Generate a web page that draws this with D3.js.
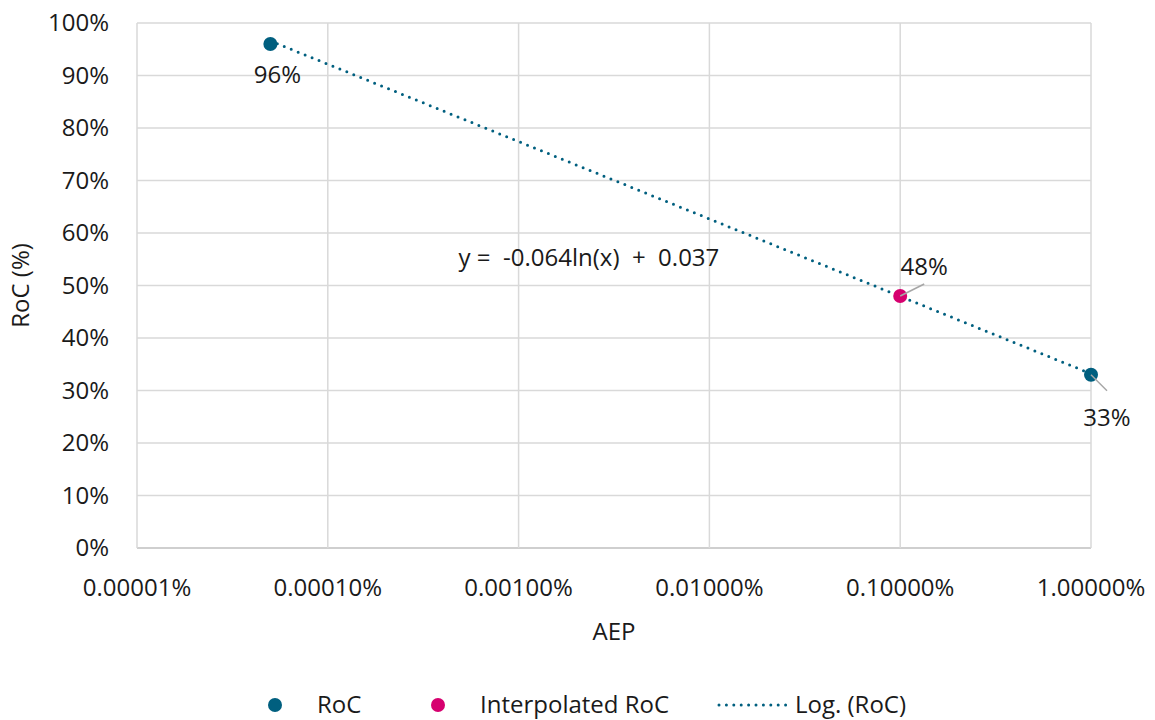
<!DOCTYPE html>
<html>
<head>
<meta charset="utf-8">
<script src="https://cdn.jsdelivr.net/npm/d3@7"></script>
<style>
  body { margin: 0; background: #fff; }
  text { font-family: "Open Sans", "Noto Sans", sans-serif; fill: #1a1a1a; }
</style>
</head>
<body>
<div id="chart"></div>
<script>
// data
var rocAEP = [5e-7, 1e-2];          // AEP as fraction
var rocVals = [0.96, 0.33];
var rocLabels = ["96%", "33%"];
var interpAEP = [1e-3];
var interpVals = [0.48];
var interpLabels = ["48%"];
var trendAEP = [5e-7, 1e-2];         // log trendline ends (straight on log axis)
var trendVals = [0.966, 0.332];
var xTicks = [1e-7, 1e-6, 1e-5, 1e-4, 1e-3, 1e-2];
var xTickLabels = ["0.00001%", "0.00010%", "0.00100%", "0.01000%", "0.10000%", "1.00000%"];
var yTicks = [0, 0.1, 0.2, 0.3, 0.4, 0.5, 0.6, 0.7, 0.8, 0.9, 1.0];
var equation = "y =  -0.064ln(x)  +  0.037";

var w = 1155, h = 720;
var margin = { top: 23, right: 64, bottom: 172, left: 137 };
var width = w - margin.left - margin.right;   // 954
var height = h - margin.top - margin.bottom;  // 525

var blue = "#005f7f", pink = "#d6006f", grid = "#d9d9d9";
var fs = "24px";

var svg = d3.select("#chart").append("svg")
    .attr("width", w).attr("height", h);
var g = svg.append("g")
    .attr("transform", "translate(" + margin.left + "," + margin.top + ")");

var x = d3.scaleLog().domain([1e-7, 1e-2]).range([0, width]);
var y = d3.scaleLinear().domain([0, 1]).range([height, 0]);

// gridlines
g.append("g").selectAll("line").data(yTicks).enter().append("line")
    .attr("x1", 0).attr("x2", width)
    .attr("y1", d => y(d)).attr("y2", d => y(d))
    .attr("stroke", d => d === 0 ? "#bfbfbf" : grid).attr("stroke-width", 1.5);
g.append("g").selectAll("line").data(xTicks).enter().append("line")
    .attr("x1", d => x(d)).attr("x2", d => x(d))
    .attr("y1", 0).attr("y2", height)
    .attr("stroke", grid).attr("stroke-width", 1.5);

// y tick labels
g.append("g").selectAll("text").data(yTicks).enter().append("text")
    .attr("x", -28).attr("y", d => y(d))
    .attr("dy", "0.35em")
    .attr("text-anchor", "end")
    .style("font-size", fs)
    .text(d => Math.round(d * 100) + "%");

// x tick labels
g.append("g").selectAll("text").data(xTicks).enter().append("text")
    .attr("x", d => x(d)).attr("y", height + 48)
    .attr("text-anchor", "middle")
    .style("font-size", fs)
    .text((d, i) => xTickLabels[i]);

// axis titles
svg.append("text")
    .attr("x", margin.left + width / 2).attr("y", 640)
    .attr("text-anchor", "middle")
    .style("font-size", fs)
    .text("AEP");
svg.append("text")
    .attr("transform", "translate(29," + (margin.top + height / 2) + ") rotate(-90)")
    .attr("text-anchor", "middle")
    .style("font-size", fs)
    .text("RoC (%)");

// trendline
var line = d3.line().x(d => x(d[0])).y(d => y(d[1]));
g.append("path")
    .datum(trendAEP.map((a, i) => [a, trendVals[i]]))
    .attr("d", line)
    .attr("fill", "none")
    .attr("stroke", blue)
    .attr("stroke-width", 3)
    .attr("stroke-linecap", "round")
    .attr("stroke-dasharray", "0,7.5");

// points
g.append("g").selectAll("circle").data(rocAEP).enter().append("circle")
    .attr("cx", d => x(d)).attr("cy", (d, i) => y(rocVals[i]))
    .attr("r", 7).attr("fill", blue);
g.append("g").selectAll("circle").data(interpAEP).enter().append("circle")
    .attr("cx", d => x(d)).attr("cy", (d, i) => y(interpVals[i]))
    .attr("r", 7).attr("fill", pink);

// leader lines for labels (48% and 33%)
g.append("line")
    .attr("x1", x(interpAEP[0])).attr("y1", y(interpVals[0]))
    .attr("x2", x(interpAEP[0]) + 24).attr("y2", y(interpVals[0]) - 12)
    .attr("stroke", "#a6a6a6").attr("stroke-width", 1.5);
g.append("line")
    .attr("x1", x(rocAEP[1])).attr("y1", y(rocVals[1]))
    .attr("x2", x(rocAEP[1]) + 16).attr("y2", y(rocVals[1]) + 16)
    .attr("stroke", "#a6a6a6").attr("stroke-width", 1.5);

// data labels
g.append("text")
    .attr("x", x(rocAEP[0]) + 7).attr("y", y(rocVals[0]) + 39)
    .attr("text-anchor", "middle").style("font-size", fs)
    .text(rocLabels[0]);
g.append("text")
    .attr("x", x(rocAEP[1]) + 16).attr("y", y(rocVals[1]) + 51)
    .attr("text-anchor", "middle").style("font-size", fs)
    .text(rocLabels[1]);
g.append("text")
    .attr("x", x(interpAEP[0]) + 24).attr("y", y(interpVals[0]) - 21)
    .attr("text-anchor", "middle").style("font-size", fs)
    .text(interpLabels[0]);

// equation
g.append("text")
    .attr("x", x(1e-5) - 60).attr("y", y(0.5) - 20)
    .style("font-size", fs)
    .style("white-space", "pre")
    .text(equation);

// legend
var leg = svg.append("g").attr("transform", "translate(0,705)");
leg.append("circle").attr("cx", 275).attr("cy", 0).attr("r", 7).attr("fill", blue);
leg.append("text").attr("x", 317).attr("y", 0).attr("dy", "0.35em").style("font-size", fs).text("RoC");
leg.append("circle").attr("cx", 438).attr("cy", 0).attr("r", 7).attr("fill", pink);
leg.append("text").attr("x", 480).attr("y", 0).attr("dy", "0.35em").style("font-size", fs).text("Interpolated RoC");
leg.append("line").attr("x1", 719).attr("x2", 786).attr("y1", 0).attr("y2", 0)
    .attr("stroke", blue).attr("stroke-width", 3)
    .attr("stroke-linecap", "round").attr("stroke-dasharray", "0,7.4");
leg.append("text").attr("x", 795).attr("y", 0).attr("dy", "0.35em").style("font-size", fs).text("Log. (RoC)");
</script>
</body>
</html>
